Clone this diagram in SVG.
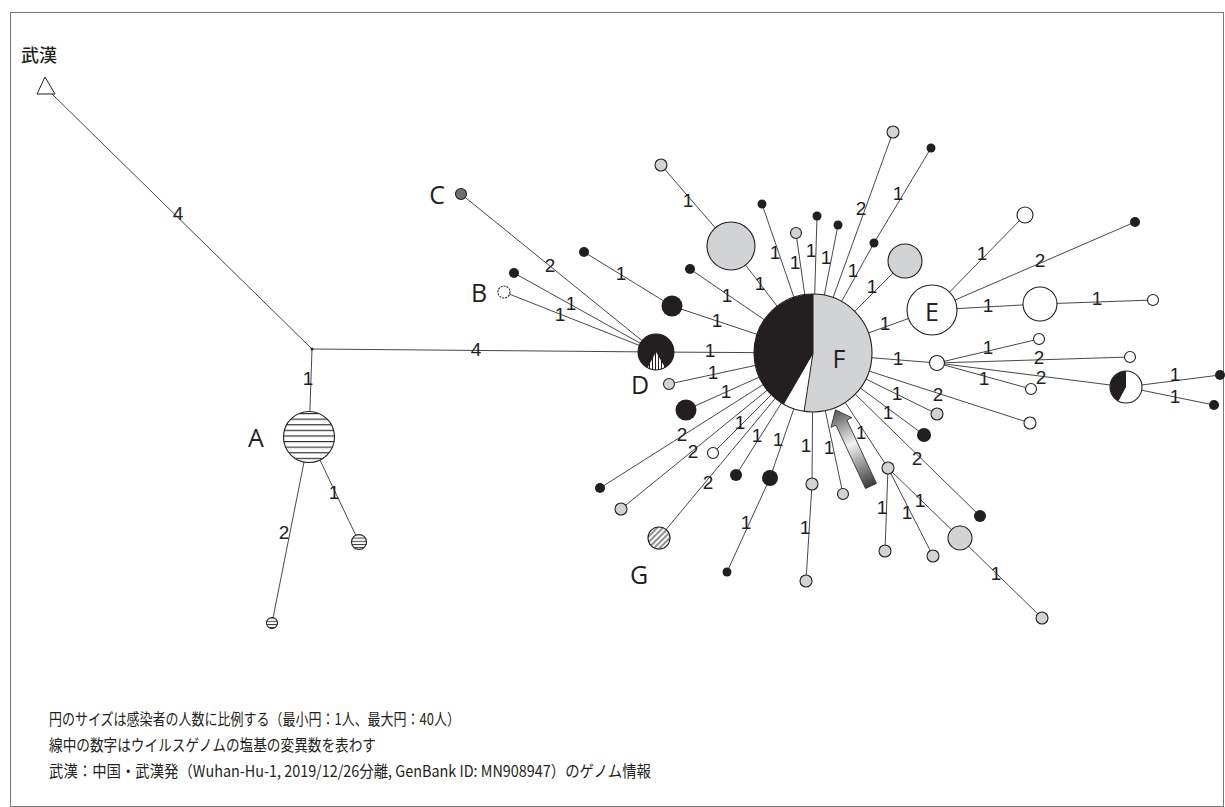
<svg xmlns="http://www.w3.org/2000/svg" width="1225" height="807" viewBox="0 0 1225 807">
<style>
.e{stroke:#333;stroke-width:0.9;fill:none}
.n{stroke:#231f20;stroke-width:1.1}
.g{fill:#d1d3d4}
.k{fill:#231f20}
.w{fill:#fff}
.lb{font-family:"Liberation Sans Narrow","Liberation Sans",sans-serif;font-size:19px;fill:#231f20;text-anchor:middle}
.nl{font-family:"Open Sans","Noto Sans",sans-serif;font-size:25px;fill:#231f20;text-anchor:middle}
.lg{font-family:"Noto Sans CJK JP",sans-serif;font-size:16px;fill:#231f20}
</style>
<defs>
<pattern id="hsA" patternUnits="userSpaceOnUse" x="0" y="413" width="10" height="5.6"><rect width="10" height="5.6" fill="#fff"/><line x1="0" y1="0.6" x2="10" y2="0.6" stroke="#231f20" stroke-width="1.1"/></pattern>
<pattern id="hsS" patternUnits="userSpaceOnUse" x="0" y="0" width="10" height="3.2"><rect width="10" height="3.2" fill="#fff"/><line x1="0" y1="0.5" x2="10" y2="0.5" stroke="#231f20" stroke-width="0.9"/></pattern>
<pattern id="vs" patternUnits="userSpaceOnUse" width="3" height="10"><rect width="3" height="10" fill="#fff"/><line x1="1.5" y1="0" x2="1.5" y2="10" stroke="#231f20" stroke-width="1"/></pattern>
<pattern id="ds" patternUnits="userSpaceOnUse" width="4" height="4" patternTransform="rotate(45)"><rect width="4" height="4" fill="#fff"/><line x1="2" y1="0" x2="2" y2="4" stroke="#231f20" stroke-width="1"/></pattern>
<linearGradient id="ag" x1="0" y1="0" x2="0" y2="-84" gradientUnits="userSpaceOnUse"><stop offset="0" stop-color="#3a3a3a"/><stop offset="0.55" stop-color="#f2f2f2"/><stop offset="1" stop-color="#555"/></linearGradient>
</defs>
<rect x="10.5" y="12.5" width="1213" height="794" fill="#fff" stroke="#777" stroke-width="1"/>

<g id="connectors">
<line class="e" x1="52" y1="94" x2="312" y2="349"/>
<line class="e" x1="312" y1="349" x2="309" y2="437"/>
<line class="e" x1="312" y1="349" x2="656" y2="352"/>
<line class="e" x1="309" y1="437" x2="359" y2="542"/>
<line class="e" x1="309" y1="437" x2="272" y2="623"/>
<line class="e" x1="461" y1="194" x2="656" y2="352"/>
<line class="e" x1="514" y1="273" x2="656" y2="352"/>
<line class="e" x1="504" y1="292" x2="656" y2="352"/>
<line class="e" x1="656" y1="352" x2="813" y2="353"/>
<line class="e" x1="584" y1="252" x2="672" y2="306"/>
<line class="e" x1="672" y1="306" x2="813" y2="353"/>
<line class="e" x1="690" y1="269" x2="813" y2="353"/>
<line class="e" x1="669" y1="384" x2="813" y2="353"/>
<line class="e" x1="686" y1="410" x2="813" y2="353"/>
<line class="e" x1="600" y1="488" x2="813" y2="353"/>
<line class="e" x1="621" y1="509" x2="813" y2="353"/>
<line class="e" x1="713" y1="453" x2="813" y2="353"/>
<line class="e" x1="659" y1="538" x2="813" y2="353"/>
<line class="e" x1="736" y1="475" x2="813" y2="353"/>
<line class="e" x1="770" y1="478" x2="813" y2="353"/>
<line class="e" x1="770" y1="478" x2="727" y2="572"/>
<line class="e" x1="812" y1="484" x2="813" y2="353"/>
<line class="e" x1="812" y1="484" x2="806" y2="581"/>
<line class="e" x1="843" y1="494" x2="813" y2="353"/>
<line class="e" x1="888" y1="468" x2="813" y2="353"/>
<line class="e" x1="888" y1="468" x2="885" y2="551"/>
<line class="e" x1="888" y1="468" x2="933" y2="556"/>
<line class="e" x1="888" y1="468" x2="960" y2="538"/>
<line class="e" x1="960" y1="538" x2="1042" y2="618"/>
<line class="e" x1="980" y1="516" x2="813" y2="353"/>
<line class="e" x1="924" y1="435" x2="813" y2="353"/>
<line class="e" x1="937" y1="414" x2="813" y2="353"/>
<line class="e" x1="1030" y1="423" x2="813" y2="353"/>
<line class="e" x1="937" y1="363" x2="813" y2="353"/>
<line class="e" x1="937" y1="363" x2="1039" y2="339"/>
<line class="e" x1="937" y1="363" x2="1130" y2="357"/>
<line class="e" x1="937" y1="363" x2="1126" y2="387"/>
<line class="e" x1="937" y1="363" x2="1031" y2="389"/>
<line class="e" x1="1126" y1="387" x2="1220" y2="375"/>
<line class="e" x1="1126" y1="387" x2="1214" y2="405"/>
<line class="e" x1="932" y1="310" x2="813" y2="353"/>
<line class="e" x1="932" y1="310" x2="1025" y2="215"/>
<line class="e" x1="932" y1="310" x2="1135" y2="222"/>
<line class="e" x1="932" y1="310" x2="1040" y2="304"/>
<line class="e" x1="1040" y1="304" x2="1153" y2="300"/>
<line class="e" x1="905" y1="261" x2="813" y2="353"/>
<line class="e" x1="874" y1="243" x2="813" y2="353"/>
<line class="e" x1="874" y1="243" x2="931" y2="148"/>
<line class="e" x1="893" y1="132" x2="813" y2="353"/>
<line class="e" x1="838" y1="225" x2="813" y2="353"/>
<line class="e" x1="817" y1="216" x2="813" y2="353"/>
<line class="e" x1="796" y1="233" x2="813" y2="353"/>
<line class="e" x1="762" y1="204" x2="813" y2="353"/>
<line class="e" x1="731" y1="246" x2="813" y2="353"/>
<line class="e" x1="661" y1="165" x2="731" y2="246"/>
</g>

<g id="edge-labels">
<text class="lb" x="178" y="220">4</text>
<text class="lb" x="308" y="385">1</text>
<text class="lb" x="476" y="356">4</text>
<text class="lb" x="334" y="499">1</text>
<text class="lb" x="284" y="539">2</text>
<text class="lb" x="550" y="272">2</text>
<text class="lb" x="571" y="310">1</text>
<text class="lb" x="560" y="321">1</text>
<text class="lb" x="710" y="357">1</text>
<text class="lb" x="621" y="280">1</text>
<text class="lb" x="717" y="327">1</text>
<text class="lb" x="727" y="302">1</text>
<text class="lb" x="713" y="379">1</text>
<text class="lb" x="726" y="398">1</text>
<text class="lb" x="682" y="441">2</text>
<text class="lb" x="693" y="458">2</text>
<text class="lb" x="740" y="429">1</text>
<text class="lb" x="708" y="489">2</text>
<text class="lb" x="757" y="442">1</text>
<text class="lb" x="778" y="446">1</text>
<text class="lb" x="746" y="529">1</text>
<text class="lb" x="806" y="452">1</text>
<text class="lb" x="805" y="534">1</text>
<text class="lb" x="829" y="454">1</text>
<text class="lb" x="861" y="439">1</text>
<text class="lb" x="882" y="514">1</text>
<text class="lb" x="907" y="519">1</text>
<text class="lb" x="920" y="507">1</text>
<text class="lb" x="996" y="580">1</text>
<text class="lb" x="917" y="465">2</text>
<text class="lb" x="888" y="419">1</text>
<text class="lb" x="897" y="400">1</text>
<text class="lb" x="938" y="401">2</text>
<text class="lb" x="898" y="365">1</text>
<text class="lb" x="988" y="354">1</text>
<text class="lb" x="1039" y="364">2</text>
<text class="lb" x="1041" y="384">2</text>
<text class="lb" x="984" y="385">1</text>
<text class="lb" x="1175" y="381">1</text>
<text class="lb" x="1175" y="403">1</text>
<text class="lb" x="885" y="330">1</text>
<text class="lb" x="982" y="260">1</text>
<text class="lb" x="1040" y="267">2</text>
<text class="lb" x="988" y="312">1</text>
<text class="lb" x="1097" y="305">1</text>
<text class="lb" x="872" y="293">1</text>
<text class="lb" x="853" y="277">1</text>
<text class="lb" x="898" y="200">1</text>
<text class="lb" x="861" y="215">2</text>
<text class="lb" x="826" y="264">1</text>
<text class="lb" x="811" y="257">1</text>
<text class="lb" x="795" y="269">1</text>
<text class="lb" x="775" y="259">1</text>
<text class="lb" x="760" y="290">1</text>
<text class="lb" x="688" y="207">1</text>
</g>

<g id="wuhan">
<text x="21" y="62" font-family="'Noto Sans CJK JP',sans-serif" font-size="18" font-weight="500" fill="#231f20">武漢</text>
<polygon points="45,77 37,94 55,94" fill="#fff" stroke="#231f20" stroke-width="1"/>
</g>
<g id="junction"><circle cx="312" cy="349" r="1.5" class="k"/></g>
<g id="nodeA">
<circle cx="309" cy="437" r="25.5" fill="url(#hsA)" class="n"/>
<text class="nl" x="256" y="447">A</text>
</g>
<g id="a1"><circle cx="359" cy="542" r="7.5" fill="url(#hsS)" class="n"/></g>
<g id="a2"><circle cx="272" cy="623" r="5.5" fill="url(#hsS)" class="n"/></g>
<g id="nodeC"><circle cx="461" cy="194" r="5.5" fill="#6d6e71" class="n"/><text class="nl" x="437" y="204">C</text></g>
<g id="b1"><circle cx="514" cy="273" r="5" class="k"/></g>
<g id="nodeB"><circle cx="504" cy="292" r="6" fill="#fff" stroke="#231f20" stroke-width="1.1" stroke-dasharray="2 1"/><text class="nl" x="479" y="302">B</text></g>
<g id="nodeD">
<circle cx="656" cy="352" r="18" class="k"/>
<path d="M656,352 L665,367.6 A18,18 0 0 1 647.5,367.9 Z" fill="url(#vs)"/>
<circle cx="656" cy="352" r="18" fill="none" class="n"/>
<text class="nl" x="640" y="394">D</text>
</g>
<g id="k1"><circle cx="584" cy="252" r="5" class="k"/></g>
<g id="k2"><circle cx="672" cy="306" r="10.5" class="k"/></g>
<g id="k3"><circle cx="690" cy="269" r="5" class="k"/></g>
<g id="g1"><circle cx="669" cy="384" r="5.5" class="g n"/></g>
<g id="k4"><circle cx="686" cy="410" r="10.5" class="k"/></g>
<g id="k5"><circle cx="600" cy="488" r="5" class="k"/></g>
<g id="g2"><circle cx="621" cy="509" r="6" class="g n"/></g>
<g id="w1"><circle cx="713" cy="453" r="5.5" class="w n"/></g>
<g id="nodeG"><circle cx="659" cy="538" r="11" fill="url(#ds)" class="n"/><text class="nl" x="639" y="584">G</text></g>
<g id="k6"><circle cx="736" cy="475" r="6" class="k"/></g>
<g id="k7"><circle cx="770" cy="478" r="8" class="k"/></g>
<g id="k8"><circle cx="727" cy="572" r="4.5" class="k"/></g>
<g id="g3"><circle cx="812" cy="484" r="6" class="g n"/></g>
<g id="g4"><circle cx="806" cy="581" r="6" class="g n"/></g>
<g id="g5"><circle cx="843" cy="494" r="5.5" class="g n"/></g>
<g id="g6"><circle cx="888" cy="468" r="6" class="g n"/></g>
<g id="g7"><circle cx="885" cy="551" r="6" class="g n"/></g>
<g id="g8"><circle cx="933" cy="556" r="6" class="g n"/></g>
<g id="g9"><circle cx="960" cy="538" r="12" class="g n"/></g>
<g id="g10"><circle cx="1042" cy="618" r="6" class="g n"/></g>
<g id="k9"><circle cx="980" cy="516" r="6" class="k"/></g>
<g id="k10"><circle cx="924" cy="435" r="7" class="k"/></g>
<g id="g11"><circle cx="937" cy="414" r="6" class="g n"/></g>
<g id="w2"><circle cx="1030" cy="423" r="6" class="w n"/></g>
<g id="w3"><circle cx="937" cy="363" r="7.5" class="w n"/></g>
<g id="w4"><circle cx="1039" cy="339" r="5.5" class="w n"/></g>
<g id="w5"><circle cx="1130" cy="357" r="5.5" class="w n"/></g>
<g id="w6"><circle cx="1031" cy="389" r="5.5" class="w n"/></g>
<g id="pie2">
<circle cx="1126" cy="387" r="16" class="w"/>
<path d="M1126,387 L1126,371 A16,16 0 0 0 1118.5,401.1 Z" class="k"/>
<circle cx="1126" cy="387" r="16" fill="none" class="n"/>
</g>
<g id="k11"><circle cx="1220" cy="375" r="5" class="k"/></g>
<g id="k12"><circle cx="1214" cy="405" r="5" class="k"/></g>
<g id="nodeE"><circle cx="932" cy="310" r="25" class="w n"/><text class="nl" x="932" y="321">E</text></g>
<g id="w7"><circle cx="1025" cy="215" r="8" class="w n"/></g>
<g id="k13"><circle cx="1135" cy="222" r="5" class="k"/></g>
<g id="w8"><circle cx="1040" cy="304" r="17" class="w n"/></g>
<g id="w9"><circle cx="1153" cy="300" r="5.5" class="w n"/></g>
<g id="g12"><circle cx="905" cy="261" r="17" class="g n"/></g>
<g id="k14"><circle cx="874" cy="243" r="4.5" class="k"/></g>
<g id="k15"><circle cx="931" cy="148" r="4.5" class="k"/></g>
<g id="g13"><circle cx="893" cy="132" r="6" class="g n"/></g>
<g id="k16"><circle cx="838" cy="225" r="4.5" class="k"/></g>
<g id="k17"><circle cx="817" cy="216" r="4.5" class="k"/></g>
<g id="g14"><circle cx="796" cy="233" r="5.5" class="g n"/></g>
<g id="k18"><circle cx="762" cy="204" r="4.5" class="k"/></g>
<g id="g15"><circle cx="731" cy="246" r="24" class="g n"/></g>
<g id="g16"><circle cx="661" cy="165" r="6" class="g n"/></g>
<g id="nodeF">
<path d="M813,353 L813,294 A59,59 0 1 1 804.1,411.3 Z" class="g"/>
<path d="M813,353 L804.1,411.3 A59,59 0 0 1 783.5,404.1 Z" class="w"/>
<path d="M813,353 L783.5,404.1 A59,59 0 0 1 813,294 Z" class="k"/>
<path d="M813,294 L813,353 L804.1,411.3 M813,353 L783.5,404.1" fill="none" stroke="#231f20" stroke-width="1"/>
<circle cx="813" cy="353" r="59" fill="none" class="n"/>
<text class="nl" x="839" y="368" font-size="27">F</text>
</g>
<g id="arrow" transform="translate(871,486) rotate(-25)">
<polygon points="-6,0 6,0 6,-70 11.5,-70 0,-84 -11.5,-70 -6,-70" fill="url(#ag)" stroke="#333" stroke-width="0.8"/>
</g>
<g id="legend">
<text class="lg" x="49" y="725" textLength="411" lengthAdjust="spacingAndGlyphs">円のサイズは感染者の人数に比例する（最小円：1人、最大円：40人）</text>
<text class="lg" x="49" y="751" textLength="327" lengthAdjust="spacingAndGlyphs">線中の数字はウイルスゲノムの塩基の変異数を表わす</text>
<text class="lg" x="49" y="777" textLength="602" lengthAdjust="spacingAndGlyphs">武漢：中国・武漢発（Wuhan-Hu-1, 2019/12/26分離, GenBank ID: MN908947）のゲノム情報</text>
</g>
</svg>
